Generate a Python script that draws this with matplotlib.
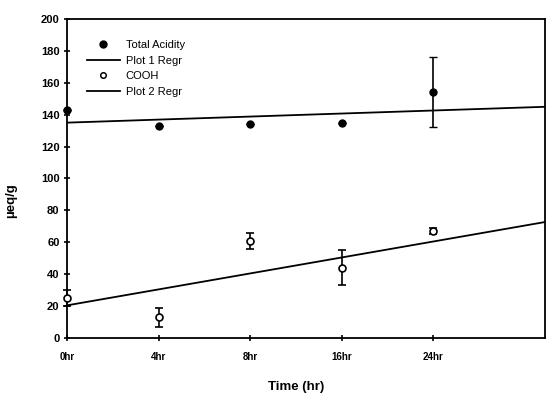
import matplotlib.pyplot as plt
from matplotlib.lines import Line2D
import numpy as np

# time points (categorical) and measured values
times = ['0hr', '4hr', '8hr', '16hr', '24hr']
total_acidity = [143, 133, 134, 135, 154]
total_err = [0, 0, 0, 0, 22]
cooh = [25, 13, 61, 44, 67]
cooh_err = [5, 6, 5, 11, 2]

# regression lines (intercept, slope per time step)
regr1 = (135, 1.9)
regr2 = (20.5, 10.0)

plt.rcParams['font.family'] = ['Liberation Sans', 'DejaVu Sans']

fig = plt.figure(figsize=(5.46, 3.94), dpi=100)
ax = fig.add_axes([0.123, 0.142, 0.875, 0.81])

xpos = np.arange(len(times))
xmax = 5.22
xl = np.array([0, xmax])

ax.errorbar(xpos, total_acidity, yerr=total_err, fmt='o', color='black',
            ms=5, capsize=3, elinewidth=1.2, clip_on=False, zorder=3)
ax.plot(xl, regr1[0] + regr1[1] * xl, color='black', lw=1.3)
ax.errorbar(xpos, cooh, yerr=cooh_err, fmt='o', color='black', mfc='white',
            ms=5, mew=1.2, capsize=3, elinewidth=1.2, clip_on=False, zorder=3)
ax.plot(xl, regr2[0] + regr2[1] * xl, color='black', lw=1.3)

ax.set_xlim(0, xmax)
ax.set_ylim(0, 200)
ax.set_yticks(range(0, 201, 20))
ax.set_xticks(xpos)
ax.set_xticklabels(times, fontsize=7, fontweight='bold')
for t in ax.get_yticklabels():
    t.set_fontsize(8)
    t.set_fontweight('bold')
ax.tick_params(axis='both', direction='inout', length=4, width=1.2)
ax.tick_params(axis='x', pad=8)
for s in ax.spines.values():
    s.set_linewidth(1.3)

ax.set_xlabel('Time (hr)', fontsize=9.5, fontweight='bold')
ax.xaxis.set_label_coords(0.48, -0.135)
ax.set_ylabel('µeq/g', fontsize=9.5, fontweight='bold')
ax.yaxis.set_label_coords(-0.105, 0.43)

handles = [
    Line2D([], [], ls='none', marker='o', color='black', ms=5),
    Line2D([], [], color='black', lw=1.3),
    Line2D([], [], ls='none', marker='o', color='black', mfc='white', ms=4, mew=1.1),
    Line2D([], [], color='black', lw=1.3),
]
labels = ['Total Acidity', 'Plot 1 Regr', 'COOH', 'Plot 2 Regr']
ax.legend(handles, labels, loc='upper left', frameon=False, fontsize=8,
          handlelength=3, handletextpad=0.5, labelspacing=0.5,
          bbox_to_anchor=(0.02, 0.965))

plt.savefig('out.png', dpi=100)
